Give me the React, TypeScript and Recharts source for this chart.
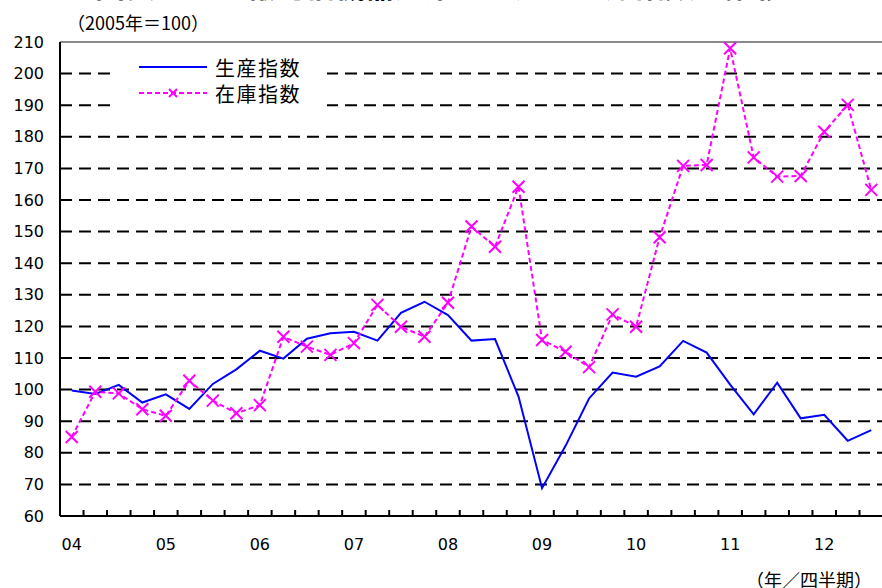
import { LineChart, Line, XAxis, YAxis, CartesianGrid, Legend, ReferenceLine } from "recharts"

// quarters 2004Q1 .. 2012Q3
const quarters = [
  "04Q1", "04Q2", "04Q3", "04Q4",
  "05Q1", "05Q2", "05Q3", "05Q4",
  "06Q1", "06Q2", "06Q3", "06Q4",
  "07Q1", "07Q2", "07Q3", "07Q4",
  "08Q1", "08Q2", "08Q3", "08Q4",
  "09Q1", "09Q2", "09Q3", "09Q4",
  "10Q1", "10Q2", "10Q3", "10Q4",
  "11Q1", "11Q2", "11Q3", "11Q4",
  "12Q1", "12Q2", "12Q3",
]

const yearLabels = ["04", "05", "06", "07", "08", "09", "10", "11", "12"]

const production = [
  99.7, 98.6, 101.5, 95.9,
  98.5, 93.9, 101.8, 106.4,
  112.3, 109.8, 116.1, 117.8,
  118.3, 115.5, 124.3, 127.8,
  123.6, 115.5, 116.0, 97.8,
  68.8, 82.2, 97.2, 105.4,
  104.1, 107.3, 115.4, 111.7,
  101.6, 92.2, 102.2, 90.9,
  92.0, 83.8, 87.2,
]

const inventory = [
  85.0, 99.3, 98.8, 93.8,
  91.7, 102.8, 96.5, 92.5,
  95.1, 116.7, 113.6, 111.0,
  114.7, 126.8, 119.9, 116.7,
  127.5, 151.6, 145.2, 164.2,
  115.7, 112.0, 107.1, 123.8,
  119.9, 148.2, 170.8, 171.1,
  208.0, 173.5, 167.4, 167.6,
  181.6, 190.1, 163.2,
]

const seriesNames = ["生産指数", "在庫指数"]
const yTicks = [60, 70, 80, 90, 100, 110, 120, 130, 140, 150, 160, 170, 180, 190, 200, 210]

const data = quarters.map((q, i) => ({
  i,
  q,
  production: production[i],
  inventory: inventory[i],
}))

// year labels on Q1, small tick marks between quarters
const labelTicks = quarters.map((q, i) => (q.endsWith("Q1") ? i : -1)).filter((i) => i >= 0)
const boundaryTicks = quarters.slice(1).map((_, i) => i + 0.5)
const xTicks = [...labelTicks, ...boundaryTicks].sort((a, b) => a - b)

const MAGENTA = "#ff00ff"
const BLUE = "#0000ff"
const CJK = "'Noto Sans CJK JP', sans-serif"

const XTick = (props: any) => {
  const { x, y, payload } = props
  const v = payload.value
  if (Number.isInteger(v)) {
    return (
      <text x={x} y={y + 28} textAnchor="middle" dominantBaseline="central" fontSize={16} fontFamily="'DejaVu Sans'" fill="#000">
        {yearLabels[labelTicks.indexOf(v)]}
      </text>
    )
  }
  return <line x1={x} x2={x} y1={y} y2={y - 6} stroke="#000" strokeWidth={2} />
}

const Cross = (props: any) => {
  const { cx, cy, index } = props
  if (cx == null || cy == null) return <g key={index} />
  const s = 6
  return (
    <path
      key={index}
      d={`M${cx - s},${cy - s}L${cx + s},${cy + s}M${cx - s},${cy + s}L${cx + s},${cy - s}`}
      stroke={MAGENTA}
      strokeWidth={2}
      fill="none"
    />
  )
}

const LegendBox = () => (
  <div style={{ background: "#fff", width: 212, padding: "2px 0", fontFamily: CJK, fontSize: 20, color: "#000" }}>
    <div style={{ display: "flex", alignItems: "center", height: 26 }}>
      <svg width={100} height={26}>
        <line x1={24} x2={92} y1={13} y2={13} stroke={BLUE} strokeWidth={2} />
      </svg>
      <span style={{ letterSpacing: 1.5 }}>{seriesNames[0]}</span>
    </div>
    <div style={{ display: "flex", alignItems: "center", height: 26 }}>
      <svg width={100} height={26}>
        <line x1={24} x2={92} y1={13} y2={13} stroke={MAGENTA} strokeWidth={2} strokeDasharray="5 3" />
        <path d="M54,9L62,17M54,17L62,9" stroke={MAGENTA} strokeWidth={2} />
      </svg>
      <span style={{ letterSpacing: 1.5 }}>{seriesNames[1]}</span>
    </div>
  </div>
)

export default function App() {
  return (
    <div style={{ position: "absolute", left: 0, top: 0, width: 882, height: 588, overflow: "hidden", background: "#fff" }}>
      <div
        style={{
          position: "absolute",
          left: 95,
          top: -34,
          fontFamily: CJK,
          fontSize: 30,
          fontWeight: "bold",
          lineHeight: "36px",
          whiteSpace: "nowrap",
          color: "#000",
        }}
      >
        図表１　情報通信機器産業の生産・在庫指数の推移
      </div>
      <div style={{ position: "absolute", left: 67, top: 9, fontFamily: CJK, fontSize: 18, lineHeight: "26px", color: "#000" }}>
        （2005年＝100）
      </div>
      <LineChart width={900} height={588} data={data} margin={{ top: 42, right: 17, bottom: 32, left: 0 }}>
        <CartesianGrid vertical={false} stroke="#000" strokeWidth={2} strokeDasharray="12 7" />
        <ReferenceLine y={210} stroke="#8a8a8a" strokeWidth={2} />
        <XAxis
          dataKey="i"
          type="number"
          domain={[-0.5, quarters.length - 0.5]}
          ticks={xTicks}
          interval={0}
          tickSize={0}
          tickMargin={0}
          tickLine={false}
          tick={<XTick />}
          height={40}
          axisLine={{ stroke: "#000", strokeWidth: 2 }}
        />
        <YAxis
          domain={[60, 210]}
          ticks={yTicks}
          interval={0}
          width={60}
          tickSize={0}
          tickMargin={16}
          tickLine={false}
          tick={{ fill: "#000", fontSize: 16, fontFamily: "'DejaVu Sans'" }}
          axisLine={{ stroke: "#000", strokeWidth: 2 }}
        />
        <Legend
          layout="horizontal"
          verticalAlign="middle"
          align="center"
          content={<LegendBox />}
          wrapperStyle={{ position: "absolute", left: 115, top: 52, width: "auto", height: "auto" }}
        />
        <Line
          dataKey="production"
          name={seriesNames[0]}
          stroke={BLUE}
          strokeWidth={2}
          dot={false}
          isAnimationActive={false}
        />
        <Line
          dataKey="inventory"
          name={seriesNames[1]}
          stroke={MAGENTA}
          strokeWidth={2}
          strokeDasharray="5 3"
          dot={<Cross />}
          isAnimationActive={false}
        />
      </LineChart>
      <div style={{ position: "absolute", left: 746, top: 566, fontFamily: CJK, fontSize: 18, lineHeight: "26px", color: "#000" }}>
        （年／四半期）
      </div>
    </div>
  )
}
